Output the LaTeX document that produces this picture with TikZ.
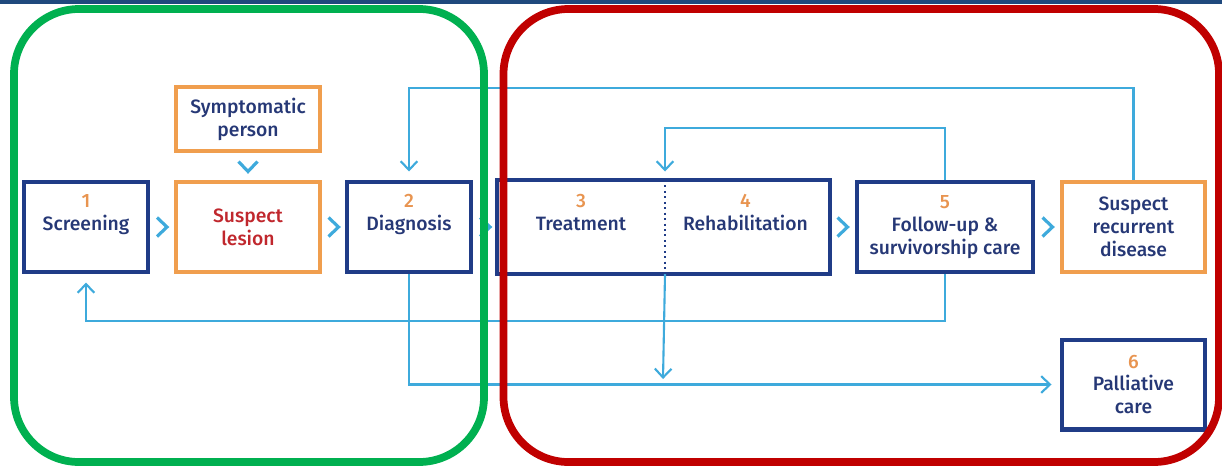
\documentclass[tikz,border=0pt]{standalone}
\usepackage{fontspec}
\setmainfont{Fira Sans}[UprightFont={* Medium}]
\usetikzlibrary{calc,arrows.meta}
\definecolor{navy}{RGB}{32,60,135}
\definecolor{navytext}{RGB}{38,56,118}
\definecolor{peach}{RGB}{240,158,78}
\definecolor{numorange}{RGB}{232,148,80}
\definecolor{lesionred}{RGB}{192,39,45}
\definecolor{sky}{RGB}{62,170,220}
\definecolor{framegreen}{RGB}{0,176,80}
\definecolor{framered}{RGB}{192,0,0}
\definecolor{topbar}{RGB}{31,73,125}
\tikzset{
  stage/.style={draw=navy, line width=2.3pt, text=navytext, align=center, inner sep=0pt, minimum height=1.8cm, font=\fontsize{11}{13}\selectfont},
  alert/.style={stage, draw=peach},
  link/.style={draw=sky, line width=1.2pt, -{Straight Barb[length=5pt,width=9.5pt]}, shorten >=0.17cm},
  chev/.style={draw=sky, line width=1.8pt},
  phase/.style={line width=4.4pt, rounded corners=1.3cm}
}
\newcommand{\stepno}[1]{{\color{numorange}#1}}

\begin{document}
\begin{tikzpicture}[x=0.02cm, y=-0.02cm]
\useasboundingbox (0,0) rectangle (1222,468);
\fill[topbar] (0,0) rectangle (1222,4);

\node[stage, minimum width=2.48cm] (scr) at (86,227) {\stepno{1}\\Screening\\\strut};
\node[alert, minimum width=2.88cm, minimum height=1.28cm] (sym) at (248,119) {Symptomatic\\person};
\node[alert, minimum width=2.88cm, text=lesionred] (les) at (248,227) {Suspect\\lesion};
\node[stage, minimum width=2.48cm] (dia) at (409,227) {\stepno{2}\\Diagnosis\\\strut};
\node[stage, draw=none, minimum width=3.28cm] (trt) at (581,227) {\stepno{3}\\Treatment\\\strut};
\node[stage, draw=none, minimum width=3.3cm] (reh) at (745.5,227) {\stepno{4}\\Rehabilitation\\\strut};
\draw[navy, line width=2.3pt] (trt.north west) rectangle (reh.south east);
\draw[navy, line width=1.1pt, dotted] (trt.north east) -- (trt.south east);
\node[stage, minimum width=3.52cm] (fol) at (945,227) {\stepno{5}\\Follow-up \&\\survivorship care};
\node[alert, minimum width=2.86cm] (rec) at (1133.5,227) {Suspect\\recurrent\\disease};
\node[stage, minimum width=2.86cm] (pal) at (1133.5,384.5) {\stepno{6}\\Palliative\\care};

\foreach \a/\b in {scr/les,les/dia,dia/trt,reh/fol,fol/rec}
  \draw[chev] ($(\a.east)!0.5!(\b.west)$) ++(-5,-9.5) -- ++(10,9.5) -- ++(-10,9.5);
\draw[chev] ($(sym.south)!0.5!(les.north)$) ++(-9.5,-5) -- ++(9.5,10) -- ++(9.5,-10);

\coordinate (upper) at (0,88);
\coordinate (inner) at (0,128);
\coordinate (lower) at (0,321);
\coordinate (drop) at (663,379);
\draw[link] (rec.north) -- (rec.north |- upper) -| (dia.north);
\draw[link] (fol.north) -- (fol.north |- inner) -| (trt.north east);
\draw[link] (fol.south) -- (fol.south |- lower) -| (scr.south);
\draw[link] (dia.south) |- (pal.west);
\draw[link, shorten >=0pt] (trt.south east) -- (drop);

\draw[phase, framegreen] (14,9) rectangle (484,462);
\draw[phase, framered] (503.5,9) rectangle (1219,462);
\end{tikzpicture}
\end{document}
